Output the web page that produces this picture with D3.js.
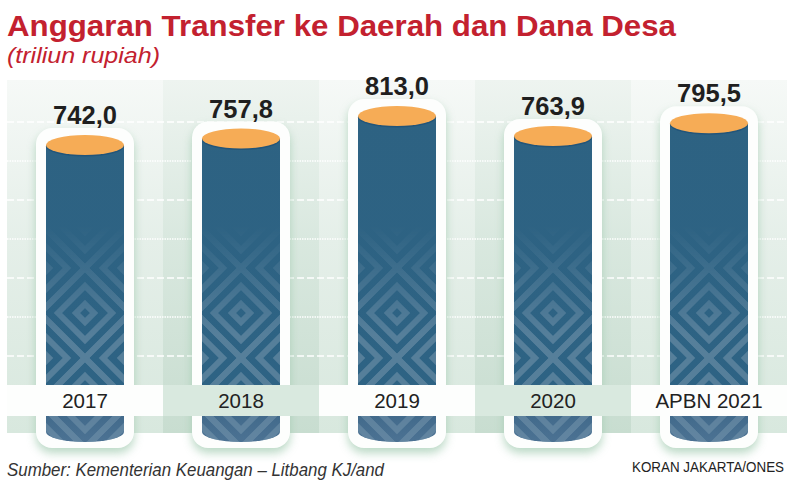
<!DOCTYPE html>
<html>
<head>
<meta charset="UTF-8">
<title>Anggaran Transfer ke Daerah dan Dana Desa</title>
<script src="https://d3js.org/d3.v7.min.js"></script>
<style>
  body {
    margin: 0;
    padding: 0;
    background: #fff;
    overflow: hidden;
  }
  svg { display: block; }
  .title { font-family: 'Liberation Sans', Arial, sans-serif; font-weight: bold; fill: #c3212f; }
  .sub { font-family: 'Liberation Sans', Arial, sans-serif; font-style: italic; fill: #c3212f; }
  .value { font-family: 'Liberation Sans', Arial, sans-serif; font-weight: bold; fill: #1f1f1f; }
  .cat { font-family: 'Liberation Sans', Arial, sans-serif; fill: #222; }
  .foot { font-family: 'Liberation Sans', Arial, sans-serif; fill: #333; }
</style>
</head>
<body>

<div id="chart"></div>

<script>
  const categories = ["2017", "2018", "2019", "2020", "APBN 2021"];
  const values = [742.0, 757.8, 813.0, 763.9, 795.5];
  const valueLabels = ["742,0", "757,8", "813,0", "763,9", "795,5"];

  const width = 796;
  const height = 495;

  const svg = d3.select("#chart")
    .append("svg")
    .attr("width", width)
    .attr("height", height);

  const defs = svg.append("defs");

  // panel gradients (light and darker stripes)
  function vgrad(id, stops) {
    const g = defs.append("linearGradient").attr("id", id)
      .attr("x1", 0).attr("y1", 0).attr("x2", 0).attr("y2", 1);
    stops.forEach(s => g.append("stop").attr("offset", s[0]).attr("stop-color", s[1]));
  }
  vgrad("bgLight", [[0, "#f6f9f7"], [0.45, "#e5efe9"], [1, "#d8e8de"]]);
  vgrad("bgDark", [[0, "#eef4f0"], [0.45, "#d9e8df"], [1, "#c8ddd0"]]);

  const bodyGrad = defs.append("linearGradient").attr("id", "bodyGrad")
    .attr("gradientUnits", "userSpaceOnUse")
    .attr("x1", 0).attr("y1", 100).attr("x2", 0).attr("y2", 445);
  [[0, "#2d6282"], [0.82, "#2e6384"], [0.9, "#40698a"], [1, "#4d7394"]]
    .forEach(s => bodyGrad.append("stop").attr("offset", s[0]).attr("stop-color", s[1]));

  // fade mask for the diamond texture (local coords of each cylinder)
  const fade = defs.append("linearGradient").attr("id", "fade")
    .attr("gradientUnits", "userSpaceOnUse")
    .attr("x1", 0).attr("y1", 225).attr("x2", 0).attr("y2", 335);
  fade.append("stop").attr("offset", 0).attr("stop-color", "#fff").attr("stop-opacity", 0);
  fade.append("stop").attr("offset", 1).attr("stop-color", "#fff").attr("stop-opacity", 1);
  defs.append("mask").attr("id", "fadeMask")
    .attr("maskUnits", "userSpaceOnUse")
    .attr("x", -100).attr("y", 0).attr("width", 200).attr("height", height)
    .append("rect")
    .attr("x", -100).attr("width", 200).attr("height", height)
    .attr("fill", "url(#fade)");

  // concentric diamonds texture
  const T = 90;
  const pat = defs.append("pattern").attr("id", "diamonds")
    .attr("patternUnits", "userSpaceOnUse")
    .attr("x", -T / 2).attr("y", 268)
    .attr("width", T).attr("height", T);
  const centers = [[T / 2, T / 2], [0, 0], [T, 0], [0, T], [T, T]];
  centers.forEach(c => {
    [9, 27, 45].forEach(r => {
      pat.append("path")
        .attr("d", `M${c[0]},${c[1] - r}L${c[0] + r},${c[1]}L${c[0]},${c[1] + r}L${c[0] - r},${c[1]}Z`)
        .attr("fill", "none")
        .attr("stroke", "#7192aa")
        .attr("stroke-width", 6);
    });
  });

  const shadow = defs.append("filter").attr("id", "soft")
    .attr("x", "-30%").attr("y", "-30%").attr("width", "160%").attr("height", "160%");
  shadow.append("feGaussianBlur").attr("stdDeviation", 5);

  // scales
  const x = d3.scaleBand().domain(categories).range([7, 787]);
  const y = d3.scaleLinear().domain([0, 813]).range([448, 116]);

  const bw = 78, rx = 39, ry = 10, border = 10;
  const baseY = 432;
  const panelTop = 80, panelBottom = 433;

  // background panel stripes
  svg.append("g").selectAll("rect")
    .data(categories)
    .join("rect")
    .attr("x", d => x(d))
    .attr("y", panelTop)
    .attr("width", x.bandwidth())
    .attr("height", panelBottom - panelTop)
    .attr("fill", (d, i) => i % 2 === 0 ? "url(#bgLight)" : "url(#bgDark)");

  // gridlines
  const grid = svg.append("g");
  d3.range(7).forEach(i => {
    grid.append("line")
      .attr("x1", 7).attr("x2", 787)
      .attr("y1", 122 + i * 39).attr("y2", 122 + i * 39)
      .attr("stroke", "#fff")
      .attr("stroke-width", 1.6)
      .attr("stroke-dasharray", i % 2 === 0 ? "7 3" : "1.5 1");
  });

  const cyl = svg.append("g").selectAll("g")
    .data(categories)
    .join("g")
    .attr("transform", d => `translate(${x(d) + x.bandwidth() / 2},0)`);

  function frame(d, i) {
    const top = y(values[i]) - ry - 7;
    const w = bw / 2 + border, r = 16, b = 448;
    return `M${-w},${top + r}A${r},${r} 0 0 1 ${-w + r},${top}L${w - r},${top}A${r},${r} 0 0 1 ${w},${top + r}` +
      `L${w},${b - r}A${r},${r} 0 0 1 ${w - r},${b}L${-w + r},${b}A${r},${r} 0 0 1 ${-w},${b - r}Z`;
  }
  function bodyPath(d, i) {
    const t = y(values[i]);
    return `M${-rx},${t}L${-rx},${baseY}A${rx},${ry} 0 0 0 ${rx},${baseY}L${rx},${t}Z`;
  }

  // green glow under the white frame
  cyl.append("path")
    .attr("d", frame)
    .attr("transform", "translate(0,5)")
    .attr("fill", "#9cc8ac")
    .attr("opacity", 0.7)
    .attr("filter", "url(#soft)");

  cyl.append("path")
    .attr("d", frame)
    .attr("fill", "#fdfefd");

  cyl.append("path")
    .attr("d", bodyPath)
    .attr("fill", "url(#bodyGrad)");

  cyl.append("path")
    .attr("d", bodyPath)
    .attr("fill", "url(#diamonds)")
    .attr("opacity", 0.6)
    .attr("mask", "url(#fadeMask)");

  // lip and top
  cyl.append("ellipse")
    .attr("cx", 0).attr("cy", (d, i) => y(values[i]) + 1.5)
    .attr("rx", rx).attr("ry", ry)
    .attr("fill", "#22557a");

  cyl.append("ellipse")
    .attr("cx", 0).attr("cy", (d, i) => y(values[i]))
    .attr("rx", rx).attr("ry", ry)
    .attr("fill", "#f6ac56");

  // label band over the cylinders
  svg.append("g").selectAll("rect")
    .data(categories)
    .join("rect")
    .attr("x", d => x(d))
    .attr("y", 385)
    .attr("width", x.bandwidth())
    .attr("height", 31)
    .attr("fill", (d, i) => i % 2 === 0 ? "#fdfefd" : "#d9e9df");

  svg.append("g").selectAll("text")
    .data(categories)
    .join("text")
    .attr("class", "cat")
    .attr("x", d => x(d) + x.bandwidth() / 2)
    .attr("y", 408)
    .attr("text-anchor", "middle")
    .style("font-size", "20.5px")
    .text(d => d);

  svg.append("g").selectAll("text")
    .data(categories)
    .join("text")
    .attr("class", "value")
    .attr("x", d => x(d) + x.bandwidth() / 2)
    .attr("y", (d, i) => y(values[i]) - 21)
    .attr("text-anchor", "middle")
    .style("font-size", "25.5px")
    .text((d, i) => valueLabels[i]);

  // titles
  svg.append("text")
    .attr("class", "title")
    .attr("x", 7).attr("y", 36)
    .attr("textLength", 669)
    .attr("lengthAdjust", "spacingAndGlyphs")
    .style("font-size", "29.5px")
    .text("Anggaran Transfer ke Daerah dan Dana Desa");

  svg.append("text")
    .attr("class", "sub")
    .attr("x", 7).attr("y", 63)
    .attr("textLength", 153)
    .attr("lengthAdjust", "spacingAndGlyphs")
    .style("font-size", "22px")
    .text("(triliun rupiah)");

  svg.append("text")
    .attr("class", "foot")
    .attr("x", 7).attr("y", 476)
    .attr("textLength", 377)
    .attr("lengthAdjust", "spacingAndGlyphs")
    .style("font-size", "17.5px")
    .style("font-style", "italic")
    .text("Sumber: Kementerian Keuangan – Litbang KJ/and");

  svg.append("text")
    .attr("class", "foot")
    .attr("x", 784).attr("y", 472)
    .attr("text-anchor", "end")
    .attr("textLength", 152)
    .attr("lengthAdjust", "spacingAndGlyphs")
    .style("font-size", "14.5px")
    .style("fill", "#222")
    .text("KORAN JAKARTA/ONES");
</script>

</body>
</html>
